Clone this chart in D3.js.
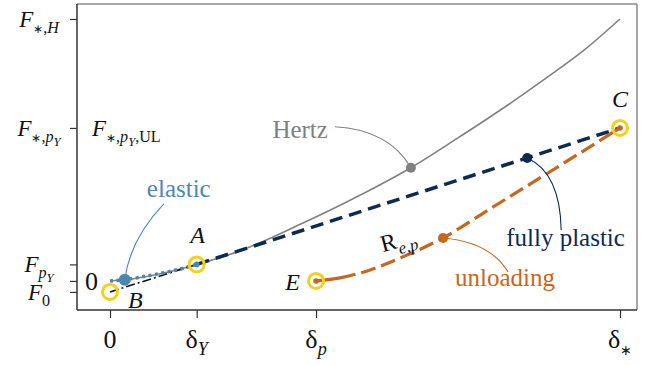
<!DOCTYPE html>
<html>
<head>
<meta charset="utf-8">
<script src="https://cdn.jsdelivr.net/npm/d3@7/dist/d3.min.js"></script>
<style>
  html, body { margin: 0; padding: 0; background: #fff; }
  svg { display: block; }
</style>
</head>
<body>
<svg id="chart" width="645" height="365"></svg>
<script>
// Tick positions (normalised displacement and force)
const deltaTicks = [0, 0.17, 0.404, 1];
const forceTicks = [1.712, 1, 0.108, 0, -0.072];

// Hertz curve
const hertzDelta = [0, 0.05, 0.1, 0.17, 0.25, 0.373, 0.49, 0.59, 0.68, 0.78, 0.857, 0.93, 1.0];
const hertzForce = [0, 0.016, 0.048, 0.108, 0.19, 0.37, 0.56, 0.74, 0.93, 1.15, 1.33, 1.51, 1.712];

// Elastic loading O -> A
const elasticDelta = [0, 0.0275, 0.06, 0.1, 0.14, 0.17];
const elasticForce = [0, 0.007, 0.025, 0.05, 0.08, 0.108];

// Fully plastic loading A -> C
const plasticDelta = [0.17, 1];
const plasticForce = [0.108, 1];

// Unloading C -> E
const unloadDelta = [0.404, 0.451, 0.51, 0.569, 0.653, 0.745, 0.843, 0.922, 1];
const unloadForce = [0, 0.02, 0.072, 0.15, 0.281, 0.471, 0.673, 0.837, 1];

// Reloading B -> A
const reloadDelta = [0, 0.17];
const reloadForce = [-0.072, 0.108];

// Key states
const stateNames = ["B", "A", "E", "C"];
const stateDelta = [0, 0.17, 0.404, 1];
const stateForce = [-0.072, 0.108, 0, 1];

const FONT = '"Liberation Serif"';
const svg = d3.select("#chart");
const L = 77, R = 637, T = 4, B = 310;

const x = d3.scaleLinear().domain([-0.0647, 1.0333]).range([L, R]);
const y = d3.scaleLinear().domain([-0.19, 1.81]).range([B, T]);

const COL = {
  hertz: "#808080", elastic: "#4e86b2", plastic: "#0d2a52",
  unload: "#c7661d", ring: "#f0d11c", ink: "#111"
};

function txt() {
  return svg.append("text").style("font-family", FONT);
}

// rich text: segments {t, i (italic), l (0 base, 1 sub, 2 subsub), s (extra scale)}
function rich(sel, segs, size) {
  const offs = [0, 0.26, 0.42];
  const scl = [1, 0.7, 0.55];
  let prev = 0;
  segs.forEach(s => {
    const lvl = s.l || 0;
    sel.append("tspan")
      .style("font-family", FONT)
      .attr("font-size", size * scl[lvl] * (s.s || 1))
      .attr("font-style", s.i ? "italic" : "normal")
      .attr("dy", (offs[lvl] - offs[prev]) * size)
      .text(s.t);
    prev = lvl;
  });
  return sel;
}

// frame
svg.append("line").attr("x1", L).attr("x2", R).attr("y1", T).attr("y2", T).attr("stroke", "#888").attr("stroke-width", 1.5);
svg.append("line").attr("x1", R).attr("x2", R).attr("y1", T).attr("y2", B).attr("stroke", "#888").attr("stroke-width", 1.5);

// axes (ticks only; labels are rich text)
const gx = svg.append("g").attr("transform", `translate(0,${B})`)
  .call(d3.axisBottom(x).tickValues(deltaTicks).tickSize(8).tickFormat(""));
const gy = svg.append("g").attr("transform", `translate(${L},0)`)
  .call(d3.axisLeft(y).tickValues(forceTicks).tickSize(7).tickFormat(""));
[gx, gy].forEach(g => {
  g.select(".domain").attr("stroke", "#333").attr("stroke-width", 1.5);
  g.selectAll(".tick line").attr("stroke", "#333").attr("stroke-width", 1.2);
});
gx.select(".domain").attr("d", `M${L},0H${R}`);
gy.select(".domain").attr("d", `M0,${T}V${B}`);

// x tick labels
const xLabels = [
  [{t: "0"}],
  [{t: "δ"}, {t: "Y", i: true, l: 1}],
  [{t: "δ"}, {t: "p", i: true, l: 1}],
  [{t: "δ"}, {t: "∗", l: 1, s: 0.75}]
];
deltaTicks.forEach((d, k) => {
  rich(txt().attr("x", x(d)).attr("y", 348).attr("text-anchor", "middle").attr("fill", COL.ink), xLabels[k], 26);
});

// y tick labels
const star = {t: "∗", l: 1, s: 0.75};
const yLabels = [
  [{t: "F", i: true}, star, {t: ",", l: 1}, {t: "H", i: true, l: 1}],
  [{t: "F", i: true}, star, {t: ",", l: 1}, {t: "p", i: true, l: 1}, {t: "Y", i: true, l: 2}],
  [{t: "F", i: true}, {t: "p", i: true, l: 1}, {t: "Y", i: true, l: 2}],
  [],
  [{t: "F", i: true}, {t: "0", l: 1}]
];
forceTicks.forEach((f, k) => {
  if (!yLabels[k].length) return;
  rich(txt().attr("x", 39).attr("y", y(f) + 8).attr("text-anchor", "middle").attr("fill", COL.ink), yLabels[k], 23);
});
// secondary labels inside the axis
txt().attr("x", 85).attr("y", y(0) + 9).attr("font-size", 26).attr("fill", COL.ink).text("0");
rich(txt().attr("x", 92).attr("y", y(1) + 8).attr("fill", COL.ink),
  [{t: "F", i: true}, star, {t: ",", l: 1}, {t: "p", i: true, l: 1}, {t: "Y", i: true, l: 2}, {t: ",UL", l: 1}], 23);

const zip = (a, b) => a.map((v, i) => [v, b[i]]);
const line = d3.line().x(d => x(d[0])).y(d => y(d[1])).curve(d3.curveMonotoneX);

// curves
svg.append("path").attr("d", line(zip(hertzDelta, hertzForce)))
  .attr("fill", "none").attr("stroke", COL.hertz).attr("stroke-width", 1.6);
svg.append("path").attr("d", line(zip(reloadDelta, reloadForce)))
  .attr("fill", "none").attr("stroke", "#111").attr("stroke-width", 1.6).attr("stroke-dasharray", "9,3,2,3");
svg.append("path").attr("d", line(zip(elasticDelta, elasticForce)))
  .attr("fill", "none").attr("stroke", COL.elastic).attr("stroke-width", 3.5).attr("stroke-dasharray", "3,3.5");
svg.append("path").attr("d", line(zip(plasticDelta, plasticForce)))
  .attr("fill", "none").attr("stroke", COL.plastic).attr("stroke-width", 3.5).attr("stroke-dasharray", "13,7");
svg.append("path").attr("d", line(zip(unloadDelta, unloadForce)))
  .attr("fill", "none").attr("stroke", COL.unload).attr("stroke-width", 3.2).attr("stroke-dasharray", "40,6,15,6,15,6,15,6,15,6,15,6,15,6,15,6,15,6,15,6,15,6,15,6,15,6,15,6");

// annotated markers with leaders and labels
const notes = [
  {d: 0.59, f: 0.74, col: COL.hertz, r: 5, text: "Hertz", anchor: "end", tx: -83, ty: -30,
   lead: [[-76, -41], [-22, -38]]},
  {d: 0.029, f: 0.007, col: COL.elastic, r: 6, text: "elastic", anchor: "middle", tx: 54, ty: -83,
   lead: [[39, -76], [5, -40]]},
  {d: 0.818, f: 0.804, col: COL.plastic, r: 5, text: "fully plastic", anchor: "start", tx: -21, ty: 88,
   lead: [[34, 72], [33, 15]]},
  {d: 0.653, f: 0.281, col: COL.unload, r: 5, text: "unloading", anchor: "start", tx: 12, ty: 48,
   lead: [[65, 34], [47, 4]]}
];
notes.forEach(n => {
  const mx = x(n.d), my = y(n.f);
  const p = d3.path();
  p.moveTo(mx + n.lead[0][0], my + n.lead[0][1]);
  p.quadraticCurveTo(mx + n.lead[1][0], my + n.lead[1][1], mx, my);
  svg.append("path").attr("d", p.toString()).attr("fill", "none").attr("stroke", n.col).attr("stroke-width", 1.1);
  svg.append("circle").attr("cx", mx).attr("cy", my).attr("r", n.r).attr("fill", n.col);
  txt().attr("x", mx + n.tx).attr("y", my + n.ty).attr("text-anchor", n.anchor)
    .attr("font-size", 25).attr("fill", n.col).text(n.text);
});

// R_{e,p} label along the unloading curve
rich(txt().attr("transform", `translate(${x(0.535)},${y(0.2) + 2}) rotate(-15)`).attr("fill", COL.ink),
  [{t: "R"}, {t: "e,p", i: true, l: 1}], 24);

// state rings
const inner = {A: COL.elastic, E: COL.unload, C: COL.unload};
stateNames.forEach((s, k) => {
  const cx = x(stateDelta[k]), cy = y(stateForce[k]);
  if (inner[s]) svg.append("circle").attr("cx", cx).attr("cy", cy).attr("r", 2.8).attr("fill", inner[s]);
  svg.append("circle").attr("cx", cx).attr("cy", cy).attr("r", 7.5)
    .attr("fill", "none").attr("stroke", COL.ring).attr("stroke-width", 3);
});
const stateLabelPos = {B: [18, 16, "start"], A: [1, -21, "middle"], E: [-16, 9, "end"], C: [0, -21, "middle"]};
stateNames.forEach((s, k) => {
  const o = stateLabelPos[s];
  txt().attr("x", x(stateDelta[k]) + o[0]).attr("y", y(stateForce[k]) + o[1])
    .attr("text-anchor", o[2]).attr("font-style", "italic").attr("font-size", 24).attr("fill", COL.ink).text(s);
});
</script>
</body>
</html>
